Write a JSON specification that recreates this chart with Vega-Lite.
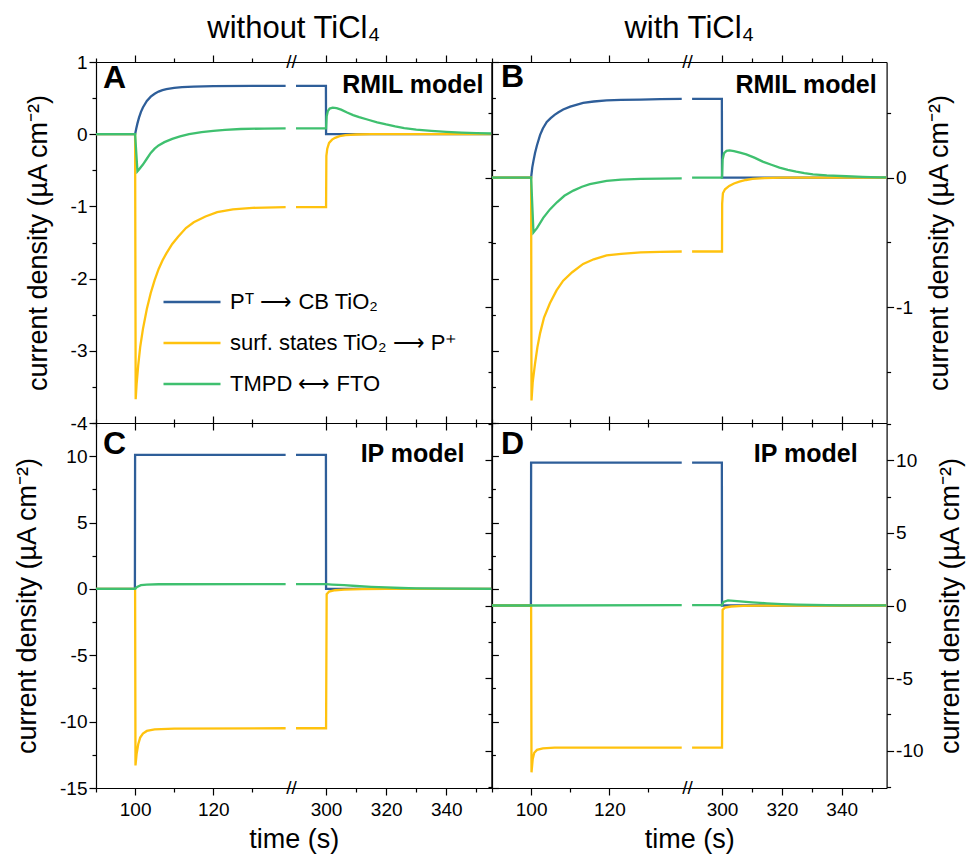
{
"$schema": "https://vega.github.io/schema/vega-lite/v6.json",
"padding": {"left": 13, "top": 13, "right": 8, "bottom": 6},
"background": "white",
"data": {"values": [
{"p":"A","s":"b","g":"L","t":90,"v":0},{"p":"A","s":"b","g":"L","t":100,"v":0},{"p":"A","s":"b","g":"L","t":100.3,"v":0.08},{"p":"A","s":"b","g":"L","t":100.6,"v":0.15},{"p":"A","s":"b","g":"L","t":101,"v":0.23},{"p":"A","s":"b","g":"L","t":101.5,"v":0.31},{"p":"A","s":"b","g":"L","t":102,"v":0.37},{"p":"A","s":"b","g":"L","t":103,"v":0.46},{"p":"A","s":"b","g":"L","t":104,"v":0.52},{"p":"A","s":"b","g":"L","t":105,"v":0.56},{"p":"A","s":"b","g":"L","t":106,"v":0.59},{"p":"A","s":"b","g":"L","t":107,"v":0.61},{"p":"A","s":"b","g":"L","t":108,"v":0.625},{"p":"A","s":"b","g":"L","t":110,"v":0.643},{"p":"A","s":"b","g":"L","t":112,"v":0.653},{"p":"A","s":"b","g":"L","t":115,"v":0.66},{"p":"A","s":"b","g":"L","t":120,"v":0.665},{"p":"A","s":"b","g":"L","t":130,"v":0.668},{"p":"A","s":"b","g":"L","t":138.5,"v":0.67},
{"p":"A","s":"y","g":"L","t":90,"v":0},{"p":"A","s":"y","g":"L","t":100,"v":0},{"p":"A","s":"y","g":"L","t":100.15,"v":-3.67},{"p":"A","s":"y","g":"L","t":100.4,"v":-3.45},{"p":"A","s":"y","g":"L","t":100.8,"v":-3.2},{"p":"A","s":"y","g":"L","t":101.3,"v":-2.95},{"p":"A","s":"y","g":"L","t":102,"v":-2.7},{"p":"A","s":"y","g":"L","t":103,"v":-2.42},{"p":"A","s":"y","g":"L","t":104,"v":-2.2},{"p":"A","s":"y","g":"L","t":105,"v":-2.02},{"p":"A","s":"y","g":"L","t":106,"v":-1.87},{"p":"A","s":"y","g":"L","t":107,"v":-1.75},{"p":"A","s":"y","g":"L","t":108,"v":-1.65},{"p":"A","s":"y","g":"L","t":109.5,"v":-1.52},{"p":"A","s":"y","g":"L","t":111,"v":-1.42},{"p":"A","s":"y","g":"L","t":113,"v":-1.3},{"p":"A","s":"y","g":"L","t":115,"v":-1.22},{"p":"A","s":"y","g":"L","t":118,"v":-1.14},{"p":"A","s":"y","g":"L","t":121,"v":-1.08},{"p":"A","s":"y","g":"L","t":125,"v":-1.04},{"p":"A","s":"y","g":"L","t":130,"v":-1.02},{"p":"A","s":"y","g":"L","t":138.5,"v":-1.01},
{"p":"A","s":"g","g":"L","t":90,"v":0},{"p":"A","s":"g","g":"L","t":100,"v":0},{"p":"A","s":"g","g":"L","t":100.6,"v":-0.515},{"p":"A","s":"g","g":"L","t":101,"v":-0.49},{"p":"A","s":"g","g":"L","t":102,"v":-0.42},{"p":"A","s":"g","g":"L","t":103,"v":-0.34},{"p":"A","s":"g","g":"L","t":104,"v":-0.26},{"p":"A","s":"g","g":"L","t":105,"v":-0.2},{"p":"A","s":"g","g":"L","t":106,"v":-0.155},{"p":"A","s":"g","g":"L","t":107.5,"v":-0.11},{"p":"A","s":"g","g":"L","t":109.5,"v":-0.065},{"p":"A","s":"g","g":"L","t":111.5,"v":-0.03},{"p":"A","s":"g","g":"L","t":113.8,"v":0},{"p":"A","s":"g","g":"L","t":117,"v":0.03},{"p":"A","s":"g","g":"L","t":120,"v":0.047},{"p":"A","s":"g","g":"L","t":123,"v":0.06},{"p":"A","s":"g","g":"L","t":127,"v":0.072},{"p":"A","s":"g","g":"L","t":133,"v":0.078},{"p":"A","s":"g","g":"L","t":138.5,"v":0.08},
{"p":"A","s":"b","g":"R","t":290,"v":0.67},{"p":"A","s":"b","g":"R","t":299.95,"v":0.67},{"p":"A","s":"b","g":"R","t":300,"v":0},{"p":"A","s":"b","g":"R","t":355,"v":0},
{"p":"A","s":"y","g":"R","t":290,"v":-1.01},{"p":"A","s":"y","g":"R","t":300,"v":-1.01},{"p":"A","s":"y","g":"R","t":300.1,"v":-0.3},{"p":"A","s":"y","g":"R","t":300.4,"v":-0.2},{"p":"A","s":"y","g":"R","t":301,"v":-0.12},{"p":"A","s":"y","g":"R","t":302,"v":-0.075},{"p":"A","s":"y","g":"R","t":303,"v":-0.05},{"p":"A","s":"y","g":"R","t":304.5,"v":-0.028},{"p":"A","s":"y","g":"R","t":306.5,"v":-0.012},{"p":"A","s":"y","g":"R","t":310,"v":-0.004},{"p":"A","s":"y","g":"R","t":315,"v":0},{"p":"A","s":"y","g":"R","t":355,"v":0},
{"p":"A","s":"g","g":"R","t":290,"v":0.08},{"p":"A","s":"g","g":"R","t":300,"v":0.08},{"p":"A","s":"g","g":"R","t":300.2,"v":0.25},{"p":"A","s":"g","g":"R","t":300.6,"v":0.32},{"p":"A","s":"g","g":"R","t":301.2,"v":0.355},{"p":"A","s":"g","g":"R","t":302.2,"v":0.367},{"p":"A","s":"g","g":"R","t":303.5,"v":0.36},{"p":"A","s":"g","g":"R","t":305,"v":0.34},{"p":"A","s":"g","g":"R","t":307,"v":0.3},{"p":"A","s":"g","g":"R","t":309,"v":0.265},{"p":"A","s":"g","g":"R","t":311,"v":0.237},{"p":"A","s":"g","g":"R","t":314,"v":0.2},{"p":"A","s":"g","g":"R","t":317,"v":0.165},{"p":"A","s":"g","g":"R","t":320,"v":0.135},{"p":"A","s":"g","g":"R","t":323,"v":0.108},{"p":"A","s":"g","g":"R","t":326,"v":0.085},{"p":"A","s":"g","g":"R","t":330,"v":0.062},{"p":"A","s":"g","g":"R","t":335,"v":0.045},{"p":"A","s":"g","g":"R","t":340,"v":0.032},{"p":"A","s":"g","g":"R","t":345,"v":0.022},{"p":"A","s":"g","g":"R","t":350,"v":0.015},{"p":"A","s":"g","g":"R","t":355,"v":0.01},

{"p":"B","s":"b","g":"L","t":90,"v":0},{"p":"B","s":"b","g":"L","t":100,"v":0},{"p":"B","s":"b","g":"L","t":100.3,"v":0.08},{"p":"B","s":"b","g":"L","t":100.6,"v":0.13},{"p":"B","s":"b","g":"L","t":101,"v":0.19},{"p":"B","s":"b","g":"L","t":101.5,"v":0.25},{"p":"B","s":"b","g":"L","t":102.3,"v":0.33},{"p":"B","s":"b","g":"L","t":103,"v":0.38},{"p":"B","s":"b","g":"L","t":104,"v":0.43},{"p":"B","s":"b","g":"L","t":105,"v":0.46},{"p":"B","s":"b","g":"L","t":106,"v":0.485},{"p":"B","s":"b","g":"L","t":107,"v":0.505},{"p":"B","s":"b","g":"L","t":108.2,"v":0.526},{"p":"B","s":"b","g":"L","t":110,"v":0.548},{"p":"B","s":"b","g":"L","t":113.3,"v":0.577},{"p":"B","s":"b","g":"L","t":116,"v":0.588},{"p":"B","s":"b","g":"L","t":119.3,"v":0.596},{"p":"B","s":"b","g":"L","t":123,"v":0.6},{"p":"B","s":"b","g":"L","t":128,"v":0.603},{"p":"B","s":"b","g":"L","t":133,"v":0.606},{"p":"B","s":"b","g":"L","t":138.5,"v":0.608},
{"p":"B","s":"y","g":"L","t":90,"v":0},{"p":"B","s":"y","g":"L","t":100,"v":0},{"p":"B","s":"y","g":"L","t":100.1,"v":-1.72},{"p":"B","s":"y","g":"L","t":100.4,"v":-1.58},{"p":"B","s":"y","g":"L","t":101,"v":-1.435},{"p":"B","s":"y","g":"L","t":101.6,"v":-1.31},{"p":"B","s":"y","g":"L","t":102.3,"v":-1.2},{"p":"B","s":"y","g":"L","t":103.3,"v":-1.08},{"p":"B","s":"y","g":"L","t":104.8,"v":-0.97},{"p":"B","s":"y","g":"L","t":106.5,"v":-0.87},{"p":"B","s":"y","g":"L","t":108.2,"v":-0.795},{"p":"B","s":"y","g":"L","t":110.5,"v":-0.73},{"p":"B","s":"y","g":"L","t":113.3,"v":-0.666},{"p":"B","s":"y","g":"L","t":116,"v":-0.63},{"p":"B","s":"y","g":"L","t":119.3,"v":-0.6},{"p":"B","s":"y","g":"L","t":123,"v":-0.588},{"p":"B","s":"y","g":"L","t":128,"v":-0.577},{"p":"B","s":"y","g":"L","t":133,"v":-0.573},{"p":"B","s":"y","g":"L","t":138.5,"v":-0.57},
{"p":"B","s":"g","g":"L","t":90,"v":0},{"p":"B","s":"g","g":"L","t":100,"v":0},{"p":"B","s":"g","g":"L","t":100.6,"v":-0.423},{"p":"B","s":"g","g":"L","t":101.5,"v":-0.39},{"p":"B","s":"g","g":"L","t":103.1,"v":-0.31},{"p":"B","s":"g","g":"L","t":104.8,"v":-0.245},{"p":"B","s":"g","g":"L","t":106.6,"v":-0.19},{"p":"B","s":"g","g":"L","t":108.5,"v":-0.14},{"p":"B","s":"g","g":"L","t":110.8,"v":-0.1},{"p":"B","s":"g","g":"L","t":113,"v":-0.07},{"p":"B","s":"g","g":"L","t":115,"v":-0.05},{"p":"B","s":"g","g":"L","t":119.3,"v":-0.025},{"p":"B","s":"g","g":"L","t":123,"v":-0.015},{"p":"B","s":"g","g":"L","t":128,"v":-0.01},{"p":"B","s":"g","g":"L","t":138.5,"v":-0.005},
{"p":"B","s":"b","g":"R","t":290,"v":0.608},{"p":"B","s":"b","g":"R","t":299.95,"v":0.608},{"p":"B","s":"b","g":"R","t":300,"v":0},{"p":"B","s":"b","g":"R","t":355,"v":0},
{"p":"B","s":"y","g":"R","t":290,"v":-0.57},{"p":"B","s":"y","g":"R","t":300,"v":-0.57},{"p":"B","s":"y","g":"R","t":300.05,"v":-0.2},{"p":"B","s":"y","g":"R","t":300.3,"v":-0.12},{"p":"B","s":"y","g":"R","t":301,"v":-0.09},{"p":"B","s":"y","g":"R","t":302.4,"v":-0.064},{"p":"B","s":"y","g":"R","t":304,"v":-0.045},{"p":"B","s":"y","g":"R","t":305.8,"v":-0.03},{"p":"B","s":"y","g":"R","t":308,"v":-0.018},{"p":"B","s":"y","g":"R","t":310.2,"v":-0.01},{"p":"B","s":"y","g":"R","t":314,"v":-0.004},{"p":"B","s":"y","g":"R","t":320,"v":0},{"p":"B","s":"y","g":"R","t":355,"v":0},
{"p":"B","s":"g","g":"R","t":290,"v":0},{"p":"B","s":"g","g":"R","t":300,"v":0},{"p":"B","s":"g","g":"R","t":300.2,"v":0.14},{"p":"B","s":"g","g":"R","t":300.7,"v":0.19},{"p":"B","s":"g","g":"R","t":301.5,"v":0.207},{"p":"B","s":"g","g":"R","t":302.5,"v":0.21},{"p":"B","s":"g","g":"R","t":304,"v":0.205},{"p":"B","s":"g","g":"R","t":306,"v":0.193},{"p":"B","s":"g","g":"R","t":308.1,"v":0.18},{"p":"B","s":"g","g":"R","t":311,"v":0.153},{"p":"B","s":"g","g":"R","t":313.6,"v":0.124},{"p":"B","s":"g","g":"R","t":316.5,"v":0.1},{"p":"B","s":"g","g":"R","t":319.2,"v":0.077},{"p":"B","s":"g","g":"R","t":322,"v":0.06},{"p":"B","s":"g","g":"R","t":324.8,"v":0.046},{"p":"B","s":"g","g":"R","t":327.5,"v":0.035},{"p":"B","s":"g","g":"R","t":330.4,"v":0.026},{"p":"B","s":"g","g":"R","t":335,"v":0.018},{"p":"B","s":"g","g":"R","t":341.5,"v":0.011},{"p":"B","s":"g","g":"R","t":347,"v":0.006},{"p":"B","s":"g","g":"R","t":352.7,"v":0.003},{"p":"B","s":"g","g":"R","t":355,"v":0.002},

{"p":"C","s":"b","g":"L","t":90,"v":0},{"p":"C","s":"b","g":"L","t":99.95,"v":0},{"p":"C","s":"b","g":"L","t":100,"v":10.1},{"p":"C","s":"b","g":"L","t":138.5,"v":10.1},
{"p":"C","s":"y","g":"L","t":90,"v":0},{"p":"C","s":"y","g":"L","t":100,"v":0},{"p":"C","s":"y","g":"L","t":100.1,"v":-13.3},{"p":"C","s":"y","g":"L","t":100.4,"v":-12.4},{"p":"C","s":"y","g":"L","t":100.8,"v":-11.7},{"p":"C","s":"y","g":"L","t":101.3,"v":-11.2},{"p":"C","s":"y","g":"L","t":102,"v":-10.9},{"p":"C","s":"y","g":"L","t":103,"v":-10.7},{"p":"C","s":"y","g":"L","t":105,"v":-10.58},{"p":"C","s":"y","g":"L","t":110,"v":-10.52},{"p":"C","s":"y","g":"L","t":138.5,"v":-10.5},
{"p":"C","s":"g","g":"L","t":90,"v":0},{"p":"C","s":"g","g":"L","t":100,"v":0},{"p":"C","s":"g","g":"L","t":100.5,"v":0.15},{"p":"C","s":"g","g":"L","t":101.5,"v":0.28},{"p":"C","s":"g","g":"L","t":103,"v":0.33},{"p":"C","s":"g","g":"L","t":106,"v":0.35},{"p":"C","s":"g","g":"L","t":138.5,"v":0.36},
{"p":"C","s":"b","g":"R","t":290,"v":10.1},{"p":"C","s":"b","g":"R","t":299.95,"v":10.1},{"p":"C","s":"b","g":"R","t":300,"v":0},{"p":"C","s":"b","g":"R","t":355,"v":0},
{"p":"C","s":"y","g":"R","t":290,"v":-10.5},{"p":"C","s":"y","g":"R","t":300,"v":-10.5},{"p":"C","s":"y","g":"R","t":300.2,"v":-0.4},{"p":"C","s":"y","g":"R","t":301,"v":-0.2},{"p":"C","s":"y","g":"R","t":303,"v":-0.1},{"p":"C","s":"y","g":"R","t":306,"v":-0.05},{"p":"C","s":"y","g":"R","t":312,"v":-0.02},{"p":"C","s":"y","g":"R","t":320,"v":0},{"p":"C","s":"y","g":"R","t":355,"v":0},
{"p":"C","s":"g","g":"R","t":290,"v":0.36},{"p":"C","s":"g","g":"R","t":300,"v":0.36},{"p":"C","s":"g","g":"R","t":302,"v":0.33},{"p":"C","s":"g","g":"R","t":306,"v":0.28},{"p":"C","s":"g","g":"R","t":310,"v":0.22},{"p":"C","s":"g","g":"R","t":315,"v":0.16},{"p":"C","s":"g","g":"R","t":320,"v":0.11},{"p":"C","s":"g","g":"R","t":325,"v":0.07},{"p":"C","s":"g","g":"R","t":330,"v":0.045},{"p":"C","s":"g","g":"R","t":340,"v":0.02},{"p":"C","s":"g","g":"R","t":355,"v":0.005},

{"p":"D","s":"b","g":"L","t":90,"v":0},{"p":"D","s":"b","g":"L","t":99.95,"v":0},{"p":"D","s":"b","g":"L","t":100,"v":9.85},{"p":"D","s":"b","g":"L","t":138.5,"v":9.85},
{"p":"D","s":"y","g":"L","t":90,"v":0},{"p":"D","s":"y","g":"L","t":100,"v":0},{"p":"D","s":"y","g":"L","t":100.1,"v":-11.5},{"p":"D","s":"y","g":"L","t":100.4,"v":-10.6},{"p":"D","s":"y","g":"L","t":100.8,"v":-10.15},{"p":"D","s":"y","g":"L","t":101.5,"v":-9.95},{"p":"D","s":"y","g":"L","t":103,"v":-9.85},{"p":"D","s":"y","g":"L","t":106,"v":-9.8},{"p":"D","s":"y","g":"L","t":138.5,"v":-9.8},
{"p":"D","s":"g","g":"L","t":90,"v":0},{"p":"D","s":"g","g":"L","t":100,"v":0},{"p":"D","s":"g","g":"L","t":138.5,"v":0.02},
{"p":"D","s":"b","g":"R","t":290,"v":9.85},{"p":"D","s":"b","g":"R","t":299.95,"v":9.85},{"p":"D","s":"b","g":"R","t":300,"v":0},{"p":"D","s":"b","g":"R","t":355,"v":0},
{"p":"D","s":"y","g":"R","t":290,"v":-9.8},{"p":"D","s":"y","g":"R","t":300,"v":-9.8},{"p":"D","s":"y","g":"R","t":300.2,"v":-0.3},{"p":"D","s":"y","g":"R","t":301,"v":-0.15},{"p":"D","s":"y","g":"R","t":303,"v":-0.07},{"p":"D","s":"y","g":"R","t":307,"v":-0.03},{"p":"D","s":"y","g":"R","t":315,"v":0},{"p":"D","s":"y","g":"R","t":355,"v":0},
{"p":"D","s":"g","g":"R","t":290,"v":0.02},{"p":"D","s":"g","g":"R","t":300,"v":0.02},{"p":"D","s":"g","g":"R","t":300.5,"v":0.25},{"p":"D","s":"g","g":"R","t":302,"v":0.35},{"p":"D","s":"g","g":"R","t":305,"v":0.3},{"p":"D","s":"g","g":"R","t":310,"v":0.22},{"p":"D","s":"g","g":"R","t":315,"v":0.15},{"p":"D","s":"g","g":"R","t":320,"v":0.1},{"p":"D","s":"g","g":"R","t":325,"v":0.065},{"p":"D","s":"g","g":"R","t":330,"v":0.04},{"p":"D","s":"g","g":"R","t":340,"v":0.015},{"p":"D","s":"g","g":"R","t":355,"v":0.003}
]},
"columns": 2,
"spacing": 0,
"bounds": "flush",
"concat": [
{
 "width": 395.4, "height": 361,
 "title": {"text": "without TiCl₄", "offset": 8},
 "layer": [
  {"transform": [{"filter": "datum.p == 'A'"}],
   "mark": {"type": "line", "strokeWidth": 2.3, "clip": true},
   "encoding": {
    "x": {"field": "t", "type": "quantitative", "scale": {"domain": [90, 140, 288.5, 355], "range": [0, 195.5, 195.5, 395.4], "zero": false, "nice": false},
          "axis": {"orient": "bottom", "values": [90,100,110,120,130,300,310,320,330,340,350], "labels": false, "title": null, "tickSize": {"condition": {"test": "datum.value % 20 == 0", "value": 7}, "value": 4}}},
    "y": {"field": "v", "type": "quantitative", "scale": {"domain": [-4, 1], "zero": false, "nice": false},
          "axis": {"orient": "left", "values": [-4,-3.5,-3,-2.5,-2,-1.5,-1,-0.5,0,0.5,1], "labelExpr": "datum.value % 1 == 0 ? '' + datum.value : ''", "labelOverlap": false, "labelFlush": false, "tickSize": {"condition": {"test": "datum.value % 1 == 0", "value": 7}, "value": 4}, "title": "current density (µA cm⁻²)", "titlePadding": 18}},
    "color": {"field": "s", "type": "nominal", "scale": {"domain": ["b", "y", "g"], "range": ["#2e5e99", "#ffc20e", "#3fc06f"]},
              "legend": {"orient": "none", "legendX": 66, "legendY": 210, "title": null, "symbolType": "stroke", "symbolSize": 3249, "symbolStrokeWidth": 2.5, "labelFontSize": 22, "labelOffset": 8, "rowPadding": -16, "labelLimit": 0,
                         "labelExpr": "datum.value == 'b' ? 'Pᵀ ⟶ CB TiO₂' : datum.value == 'y' ? 'surf. states TiO₂ ⟶ P⁺' : 'TMPD ⟷ FTO'"}},
    "detail": {"field": "g"}
   }},
  {"data": {"values": [{"x": 90, "y": 1, "txt": "A"}]},
   "mark": {"type": "text", "fontSize": 32, "fontWeight": "bold", "align": "left", "baseline": "alphabetic", "dx": 7, "dy": 26},
   "encoding": {
    "x": {"field": "x", "type": "quantitative", "scale": {"domain": [90, 140, 288.5, 355], "range": [0, 195.5, 195.5, 395.4], "zero": false, "nice": false},
          "axis": {"orient": "top", "values": [90,100,110,120,130,300,310,320,330,340,350], "labels": false, "title": null, "tickSize": {"condition": {"test": "datum.value % 20 == 0", "value": 7}, "value": 4}}},
    "y": {"field": "y", "type": "quantitative", "scale": {"domain": [-4, 1], "zero": false, "nice": false},
          "axis": {"orient": "right", "values": [-4,-3.5,-3,-2.5,-2,-1.5,-1,-0.5,0,0.5,1], "labels": false, "title": null, "tickSize": {"condition": {"test": "datum.value % 1 == 0", "value": 7}, "value": 4}}},
    "text": {"field": "txt"}}},
  {"data": {"values": [{"x": 355, "y": 1, "txt": "RMIL model"}]},
   "mark": {"type": "text", "fontSize": 25, "fontWeight": "bold", "align": "right", "baseline": "alphabetic", "dx": -8, "dy": 31},
   "encoding": {"x": {"field": "x", "type": "quantitative", "axis": null}, "y": {"field": "y", "type": "quantitative", "axis": null}, "text": {"field": "txt"}}},
  {"data": {"values": [{"x": 140, "y": 1, "txt": "//"}]},
   "mark": {"type": "text", "fontSize": 19, "align": "center", "baseline": "middle"},
   "encoding": {"x": {"field": "x", "type": "quantitative", "axis": null}, "y": {"field": "y", "type": "quantitative", "axis": null}, "text": {"field": "txt"}}}
 ],
 "resolve": {"axis": {"x": "independent", "y": "independent"}}
},
{
 "width": 394.6, "height": 361,
 "title": {"text": "with TiCl₄", "offset": 8},
 "layer": [
  {"transform": [{"filter": "datum.p == 'B'"}],
   "mark": {"type": "line", "strokeWidth": 2.3, "clip": true},
   "encoding": {
    "x": {"field": "t", "type": "quantitative", "scale": {"domain": [90, 140, 288.5, 355], "range": [0, 195.6, 195.6, 394.6], "zero": false, "nice": false},
          "axis": {"orient": "bottom", "values": [90,100,110,120,130,300,310,320,330,340,350], "labels": false, "title": null, "tickSize": {"condition": {"test": "datum.value % 20 == 0", "value": 7}, "value": 4}}},
    "y": {"field": "v", "type": "quantitative", "scale": {"domain": [-1.894, 0.893], "zero": false, "nice": false},
          "axis": {"orient": "right", "values": [-1.5,-1,-0.5,0,0.5], "labelExpr": "datum.value % 1 == 0 ? '' + datum.value : ''", "labelOverlap": false, "labelFlush": false, "tickSize": {"condition": {"test": "datum.value % 1 == 0", "value": 7}, "value": 4}, "title": "current density (µA cm⁻²)", "titleAngle": 270, "titleBaseline": "top", "titlePadding": 14}},
    "color": {"field": "s", "type": "nominal", "scale": {"domain": ["b", "y", "g"], "range": ["#2e5e99", "#ffc20e", "#3fc06f"]}},
    "detail": {"field": "g"}
   }},
  {"data": {"values": [{"x": 90, "y": 0.893, "txt": "B"}]},
   "mark": {"type": "text", "fontSize": 32, "fontWeight": "bold", "align": "left", "baseline": "alphabetic", "dx": 9, "dy": 25},
   "encoding": {
    "x": {"field": "x", "type": "quantitative", "scale": {"domain": [90, 140, 288.5, 355], "range": [0, 195.6, 195.6, 394.6], "zero": false, "nice": false},
          "axis": {"orient": "top", "values": [90,100,110,120,130,300,310,320,330,340,350], "labels": false, "title": null, "tickSize": {"condition": {"test": "datum.value % 20 == 0", "value": 7}, "value": 4}}},
    "y": {"field": "y", "type": "quantitative", "scale": {"domain": [-1.894, 0.893], "zero": false, "nice": false},
          "axis": {"orient": "left", "values": [-1.5,-1,-0.5,0,0.5], "labels": false, "title": null, "tickSize": {"condition": {"test": "datum.value % 1 == 0", "value": 7}, "value": 4}}},
    "text": {"field": "txt"}}},
  {"data": {"values": [{"x": 355, "y": 0.893, "txt": "RMIL model"}]},
   "mark": {"type": "text", "fontSize": 25, "fontWeight": "bold", "align": "right", "baseline": "alphabetic", "dx": -10, "dy": 31},
   "encoding": {"x": {"field": "x", "type": "quantitative", "axis": null}, "y": {"field": "y", "type": "quantitative", "axis": null}, "text": {"field": "txt"}}},
  {"data": {"values": [{"x": 140, "y": 0.893, "txt": "//"}]},
   "mark": {"type": "text", "fontSize": 19, "align": "center", "baseline": "middle"},
   "encoding": {"x": {"field": "x", "type": "quantitative", "axis": null}, "y": {"field": "y", "type": "quantitative", "axis": null}, "text": {"field": "txt"}}}
 ],
 "resolve": {"axis": {"x": "independent", "y": "independent"}}
},
{
 "width": 395.4, "height": 365,
 "layer": [
  {"transform": [{"filter": "datum.p == 'C'"}],
   "mark": {"type": "line", "strokeWidth": 2.3, "clip": true},
   "encoding": {
    "x": {"field": "t", "type": "quantitative", "scale": {"domain": [90, 140, 288.5, 355], "range": [0, 195.5, 195.5, 395.4], "zero": false, "nice": false},
          "axis": {"orient": "bottom", "values": [90,100,110,120,130,300,310,320,330,340,350], "labelExpr": "datum.value % 20 == 0 ? '' + datum.value : ''", "labelOverlap": false, "labelFlush": false, "labelPadding": 5, "tickSize": {"condition": {"test": "datum.value % 20 == 0", "value": 7}, "value": 4}, "title": "time (s)", "titlePadding": 7}},
    "y": {"field": "v", "type": "quantitative", "scale": {"domain": [-15, 12.5], "zero": false, "nice": false},
          "axis": {"orient": "left", "values": [-15,-12.5,-10,-7.5,-5,-2.5,0,2.5,5,7.5,10,12.5], "labelExpr": "datum.value % 5 == 0 ? '' + datum.value : ''", "labelOverlap": false, "labelFlush": false, "tickSize": {"condition": {"test": "datum.value % 5 == 0", "value": 7}, "value": 4}, "title": "current density (µA cm⁻²)", "titlePadding": 18}},
    "color": {"field": "s", "type": "nominal", "scale": {"domain": ["b", "y", "g"], "range": ["#2e5e99", "#ffc20e", "#3fc06f"]}},
    "detail": {"field": "g"}
   }},
  {"data": {"values": [{"x": 90, "y": 12.5, "txt": "C"}]},
   "mark": {"type": "text", "fontSize": 32, "fontWeight": "bold", "align": "left", "baseline": "alphabetic", "dx": 7, "dy": 31},
   "encoding": {
    "x": {"field": "x", "type": "quantitative", "scale": {"domain": [90, 140, 288.5, 355], "range": [0, 195.5, 195.5, 395.4], "zero": false, "nice": false},
          "axis": {"orient": "top", "values": [90,100,110,120,130,300,310,320,330,340,350], "labels": false, "title": null, "tickSize": {"condition": {"test": "datum.value % 20 == 0", "value": 7}, "value": 4}}},
    "y": {"field": "y", "type": "quantitative", "scale": {"domain": [-15, 12.5], "zero": false, "nice": false},
          "axis": {"orient": "right", "values": [-15,-12.5,-10,-7.5,-5,-2.5,0,2.5,5,7.5,10,12.5], "labels": false, "title": null, "tickSize": {"condition": {"test": "datum.value % 5 == 0", "value": 7}, "value": 4}}},
    "text": {"field": "txt"}}},
  {"data": {"values": [{"x": 355, "y": 12.5, "txt": "IP model"}]},
   "mark": {"type": "text", "fontSize": 25, "fontWeight": "bold", "align": "right", "baseline": "alphabetic", "dx": -27, "dy": 39},
   "encoding": {"x": {"field": "x", "type": "quantitative", "axis": null}, "y": {"field": "y", "type": "quantitative", "axis": null}, "text": {"field": "txt"}}},
  {"data": {"values": [{"x": 140, "y": -15, "txt": "//"}]},
   "mark": {"type": "text", "fontSize": 19, "align": "center", "baseline": "middle"},
   "encoding": {"x": {"field": "x", "type": "quantitative", "axis": null}, "y": {"field": "y", "type": "quantitative", "axis": null}, "text": {"field": "txt"}}}
 ],
 "resolve": {"axis": {"x": "independent", "y": "independent"}}
},
{
 "width": 394.6, "height": 365,
 "layer": [
  {"transform": [{"filter": "datum.p == 'D'"}],
   "mark": {"type": "line", "strokeWidth": 2.3, "clip": true},
   "encoding": {
    "x": {"field": "t", "type": "quantitative", "scale": {"domain": [90, 140, 288.5, 355], "range": [0, 195.6, 195.6, 394.6], "zero": false, "nice": false},
          "axis": {"orient": "bottom", "values": [90,100,110,120,130,300,310,320,330,340,350], "labelExpr": "datum.value % 20 == 0 ? '' + datum.value : ''", "labelOverlap": false, "labelFlush": false, "labelPadding": 5, "tickSize": {"condition": {"test": "datum.value % 20 == 0", "value": 7}, "value": 4}, "title": "time (s)", "titlePadding": 7}},
    "y": {"field": "v", "type": "quantitative", "scale": {"domain": [-12.58, 12.58], "zero": false, "nice": false},
          "axis": {"orient": "right", "values": [-12.5,-10,-7.5,-5,-2.5,0,2.5,5,7.5,10,12.5], "labelExpr": "datum.value % 5 == 0 ? '' + datum.value : ''", "labelOverlap": false, "labelFlush": false, "tickSize": {"condition": {"test": "datum.value % 5 == 0", "value": 7}, "value": 4}, "title": "current density (µA cm⁻²)", "titleAngle": 270, "titleBaseline": "top", "titlePadding": 14}},
    "color": {"field": "s", "type": "nominal", "scale": {"domain": ["b", "y", "g"], "range": ["#2e5e99", "#ffc20e", "#3fc06f"]}},
    "detail": {"field": "g"}
   }},
  {"data": {"values": [{"x": 90, "y": 12.58, "txt": "D"}]},
   "mark": {"type": "text", "fontSize": 32, "fontWeight": "bold", "align": "left", "baseline": "alphabetic", "dx": 9, "dy": 31},
   "encoding": {
    "x": {"field": "x", "type": "quantitative", "scale": {"domain": [90, 140, 288.5, 355], "range": [0, 195.6, 195.6, 394.6], "zero": false, "nice": false},
          "axis": {"orient": "top", "values": [90,100,110,120,130,300,310,320,330,340,350], "labels": false, "title": null, "tickSize": {"condition": {"test": "datum.value % 20 == 0", "value": 7}, "value": 4}}},
    "y": {"field": "y", "type": "quantitative", "scale": {"domain": [-12.58, 12.58], "zero": false, "nice": false},
          "axis": {"orient": "left", "values": [-12.5,-10,-7.5,-5,-2.5,0,2.5,5,7.5,10,12.5], "labels": false, "title": null, "tickSize": {"condition": {"test": "datum.value % 5 == 0", "value": 7}, "value": 4}}},
    "text": {"field": "txt"}}},
  {"data": {"values": [{"x": 355, "y": 12.58, "txt": "IP model"}]},
   "mark": {"type": "text", "fontSize": 25, "fontWeight": "bold", "align": "right", "baseline": "alphabetic", "dx": -29, "dy": 39},
   "encoding": {"x": {"field": "x", "type": "quantitative", "axis": null}, "y": {"field": "y", "type": "quantitative", "axis": null}, "text": {"field": "txt"}}},
  {"data": {"values": [{"x": 140, "y": -12.58, "txt": "//"}]},
   "mark": {"type": "text", "fontSize": 19, "align": "center", "baseline": "middle"},
   "encoding": {"x": {"field": "x", "type": "quantitative", "axis": null}, "y": {"field": "y", "type": "quantitative", "axis": null}, "text": {"field": "txt"}}}
 ],
 "resolve": {"axis": {"x": "independent", "y": "independent"}}
}
],
"resolve": {"scale": {"color": "shared"}},
"config": {
 "font": "Liberation Sans",
 "view": {"stroke": null},
 "axis": {"labelFont": "Liberation Sans", "titleFont": "Liberation Sans", "labelFontSize": 19, "titleFontSize": 27, "titleFontWeight": "normal", "labelColor": "black", "titleColor": "black", "domainColor": "black", "tickColor": "black", "domainWidth": 1.2, "tickWidth": 1.2, "grid": false},
 "legend": {"labelFont": "Liberation Sans", "labelColor": "black"},
 "title": {"font": "Liberation Sans", "fontSize": 31, "fontWeight": "normal", "color": "black", "anchor": "middle"},
 "text": {"font": "Liberation Sans", "color": "black"},
 "line": {"strokeCap": "butt"}
}
}
